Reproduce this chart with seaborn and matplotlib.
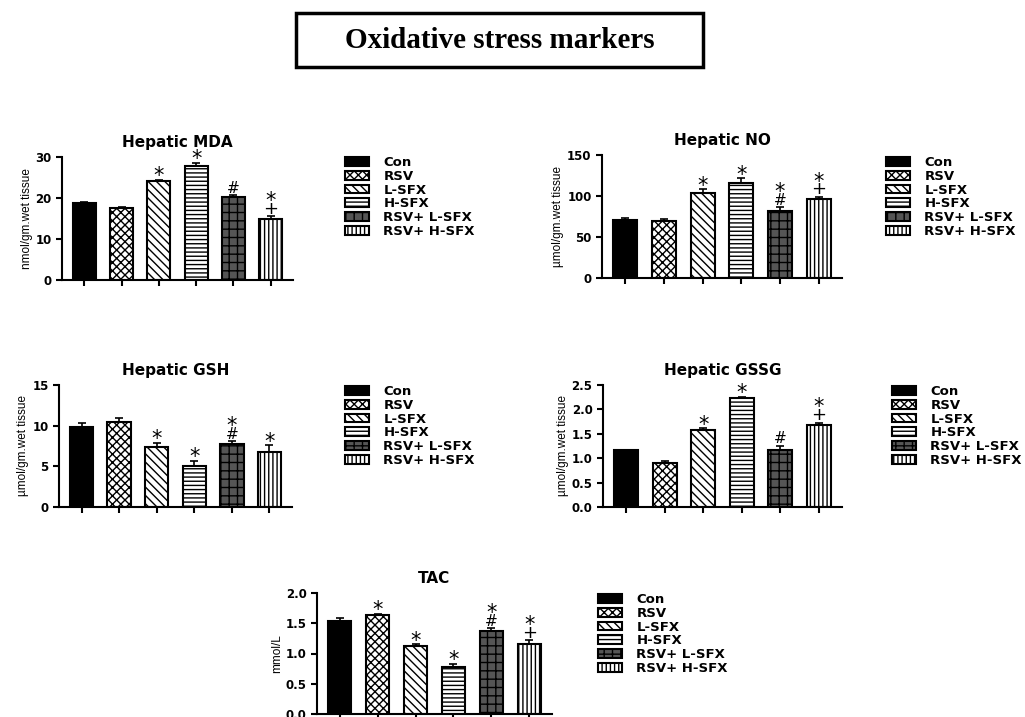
import numpy as np
import pandas as pd
import matplotlib
matplotlib.use("Agg")
import matplotlib.pyplot as plt
from matplotlib.patches import Rectangle
from matplotlib.textpath import TextPath
from matplotlib.font_manager import FontProperties
import seaborn as sns

groups = ["Con", "RSV", "L-SFX", "H-SFX", "RSV+ L-SFX", "RSV+ H-SFX"]

mda = [18.7, 17.6, 24.2, 27.8, 20.2, 15.0]
mda_err = [0.4, 0.3, 0.3, 0.8, 0.5, 0.6]
mda_sig = ["", "", "*", "*", "#", "+*"]

no = [71, 70, 104, 116, 82, 96]
no_err = [2, 2, 4, 6, 4, 3]
no_sig = ["", "", "*", "*", "#*", "+*"]

gsh = [9.8, 10.5, 7.4, 5.0, 7.8, 6.8]
gsh_err = [0.5, 0.4, 0.5, 0.7, 0.3, 0.8]
gsh_sig = ["", "", "*", "*", "#*", "*"]

gssg = [1.16, 0.91, 1.57, 2.24, 1.16, 1.69]
gssg_err = [0.01, 0.03, 0.04, 0.02, 0.10, 0.04]
gssg_sig = ["", "", "*", "*", "#", "+*"]

tac = [1.54, 1.63, 1.12, 0.77, 1.37, 1.16]
tac_err = [0.04, 0.03, 0.04, 0.06, 0.05, 0.06]
tac_sig = ["", "*", "*", "*", "#*", "+*"]

sns.set_style("ticks")
plt.rcParams["font.family"] = ["DejaVu Sans"]
plt.rcParams["hatch.linewidth"] = 1.0
for k in ["text.color", "axes.labelcolor", "xtick.color", "ytick.color"]:
    plt.rcParams[k] = "black"

faces = ["black", "white", "white", "white", "#555555", "white"]
hatches = [None, "xxxx", "\\\\\\\\", "----", "++", "||||"]

# symbol sizes (pt) and ink centre above the baseline (em)
sym_size = {"*": 15, "+": 13, "#": 11}
sym_mid = {}
for ch in "*+#":
    ext = TextPath((0, 0), ch, size=1, prop=FontProperties(family="DejaVu Sans")).get_extents()
    sym_mid[ch] = (ext.y0 + ext.y1) / 2

W, H = 1025, 717
fig = plt.figure(figsize=(W / 100, H / 100), dpi=100)


def box(l, r, t, b):
    return [l / W, 1 - b / H, (r - l) / W, (b - t) / H]


def panel(vals, errs, sig, title, ylabel, ylim, step, rect, leg_xy, fmt="{:.0f}"):
    ax = fig.add_axes(box(*rect))
    df = pd.DataFrame({"group": groups, "value": vals})
    sns.barplot(data=df, x="group", y="value", hue="group", palette=faces,
                width=0.62, edgecolor="black", linewidth=1.5, legend=False,
                ax=ax, saturation=1)
    for p, h in zip(ax.patches, hatches):
        if h:
            p.set_hatch(h)
    xs = np.arange(len(vals))
    ax.errorbar(xs, vals, yerr=[np.zeros(len(errs)), errs], fmt="none",
                ecolor="black", elinewidth=1.2, capsize=3, capthick=1.2)
    # significance marks, stacked from the bottom up
    for x, v, e, s in zip(xs, vals, errs, sig):
        for i, ch in enumerate(s):
            centre_px = 8 + 12 * i
            off_px = centre_px - sym_mid[ch] * sym_size[ch] * 100 / 72
            ax.annotate(ch, (x, v + e), xytext=(0, off_px * 0.72),
                        textcoords="offset points", ha="center", va="baseline",
                        fontsize=sym_size[ch])
    ax.set_xlim(-0.6, 5.6)
    ax.set_ylim(0, ylim)
    ticks = np.arange(0, ylim + step / 2, step)
    ax.set_yticks(ticks)
    ax.set_yticklabels([fmt.format(t) for t in ticks], fontweight="bold", fontsize=8.5)
    ax.set_xticks(xs)
    ax.set_xticklabels([])
    ax.set_xlabel("")
    ax.set_ylabel(ylabel, fontsize=8.5, family=["Liberation Sans", "DejaVu Sans"],
                  labelpad=2)
    ax.set_title(title, fontsize=11, fontweight="bold", pad=7)
    sns.despine(ax=ax)
    for sp in ["left", "bottom"]:
        ax.spines[sp].set_linewidth(1.5)
        ax.spines[sp].set_color("black")
    ax.tick_params(width=1.5, length=4, color="black")
    handles = ax.patches[:len(groups)]
    ax.legend(handles, groups, loc="upper left", frameon=False,
              bbox_to_anchor=(leg_xy[0] / W, 1 - leg_xy[1] / H),
              bbox_transform=fig.transFigure, borderpad=0, borderaxespad=0,
              handlelength=1.8, handleheight=0.65, handletextpad=1.1,
              labelspacing=0.06, prop={"weight": "bold", "size": 9.5})
    return ax


panel(mda, mda_err, mda_sig, "Hepatic MDA", "nmol/gm.wet tissue", 30, 10,
      (62, 293, 157, 280), (345, 156))
panel(no, no_err, no_sig, "Hepatic NO", "µmol/gm.wet tissue", 150, 50,
      (602, 842, 155, 278), (886, 156))
panel(gsh, gsh_err, gsh_sig, "Hepatic GSH", "µmol/gm.wet tissue", 15, 5,
      (59, 292, 385, 507), (345, 385))
panel(gssg, gssg_err, gssg_sig, "Hepatic GSSG", "µmol/gm.wet tissue", 2.5, 0.5,
      (603, 842, 385, 507), (892, 385), fmt="{:.1f}")
panel(tac, tac_err, tac_sig, "TAC", "mmol/L", 2.0, 0.5,
      (317, 552, 593, 714), (598, 593), fmt="{:.1f}")

fig.add_artist(Rectangle((296 / W, 1 - 67 / H), 407 / W, 54 / H,
                         transform=fig.transFigure, fill=False,
                         edgecolor="black", linewidth=2.5))
fig.text(500 / W, 1 - 40 / H, "Oxidative stress markers", ha="center", va="center",
         fontsize=21, fontweight="bold", family=["Liberation Serif", "DejaVu Serif"])

fig.savefig("out.png", dpi=100)
